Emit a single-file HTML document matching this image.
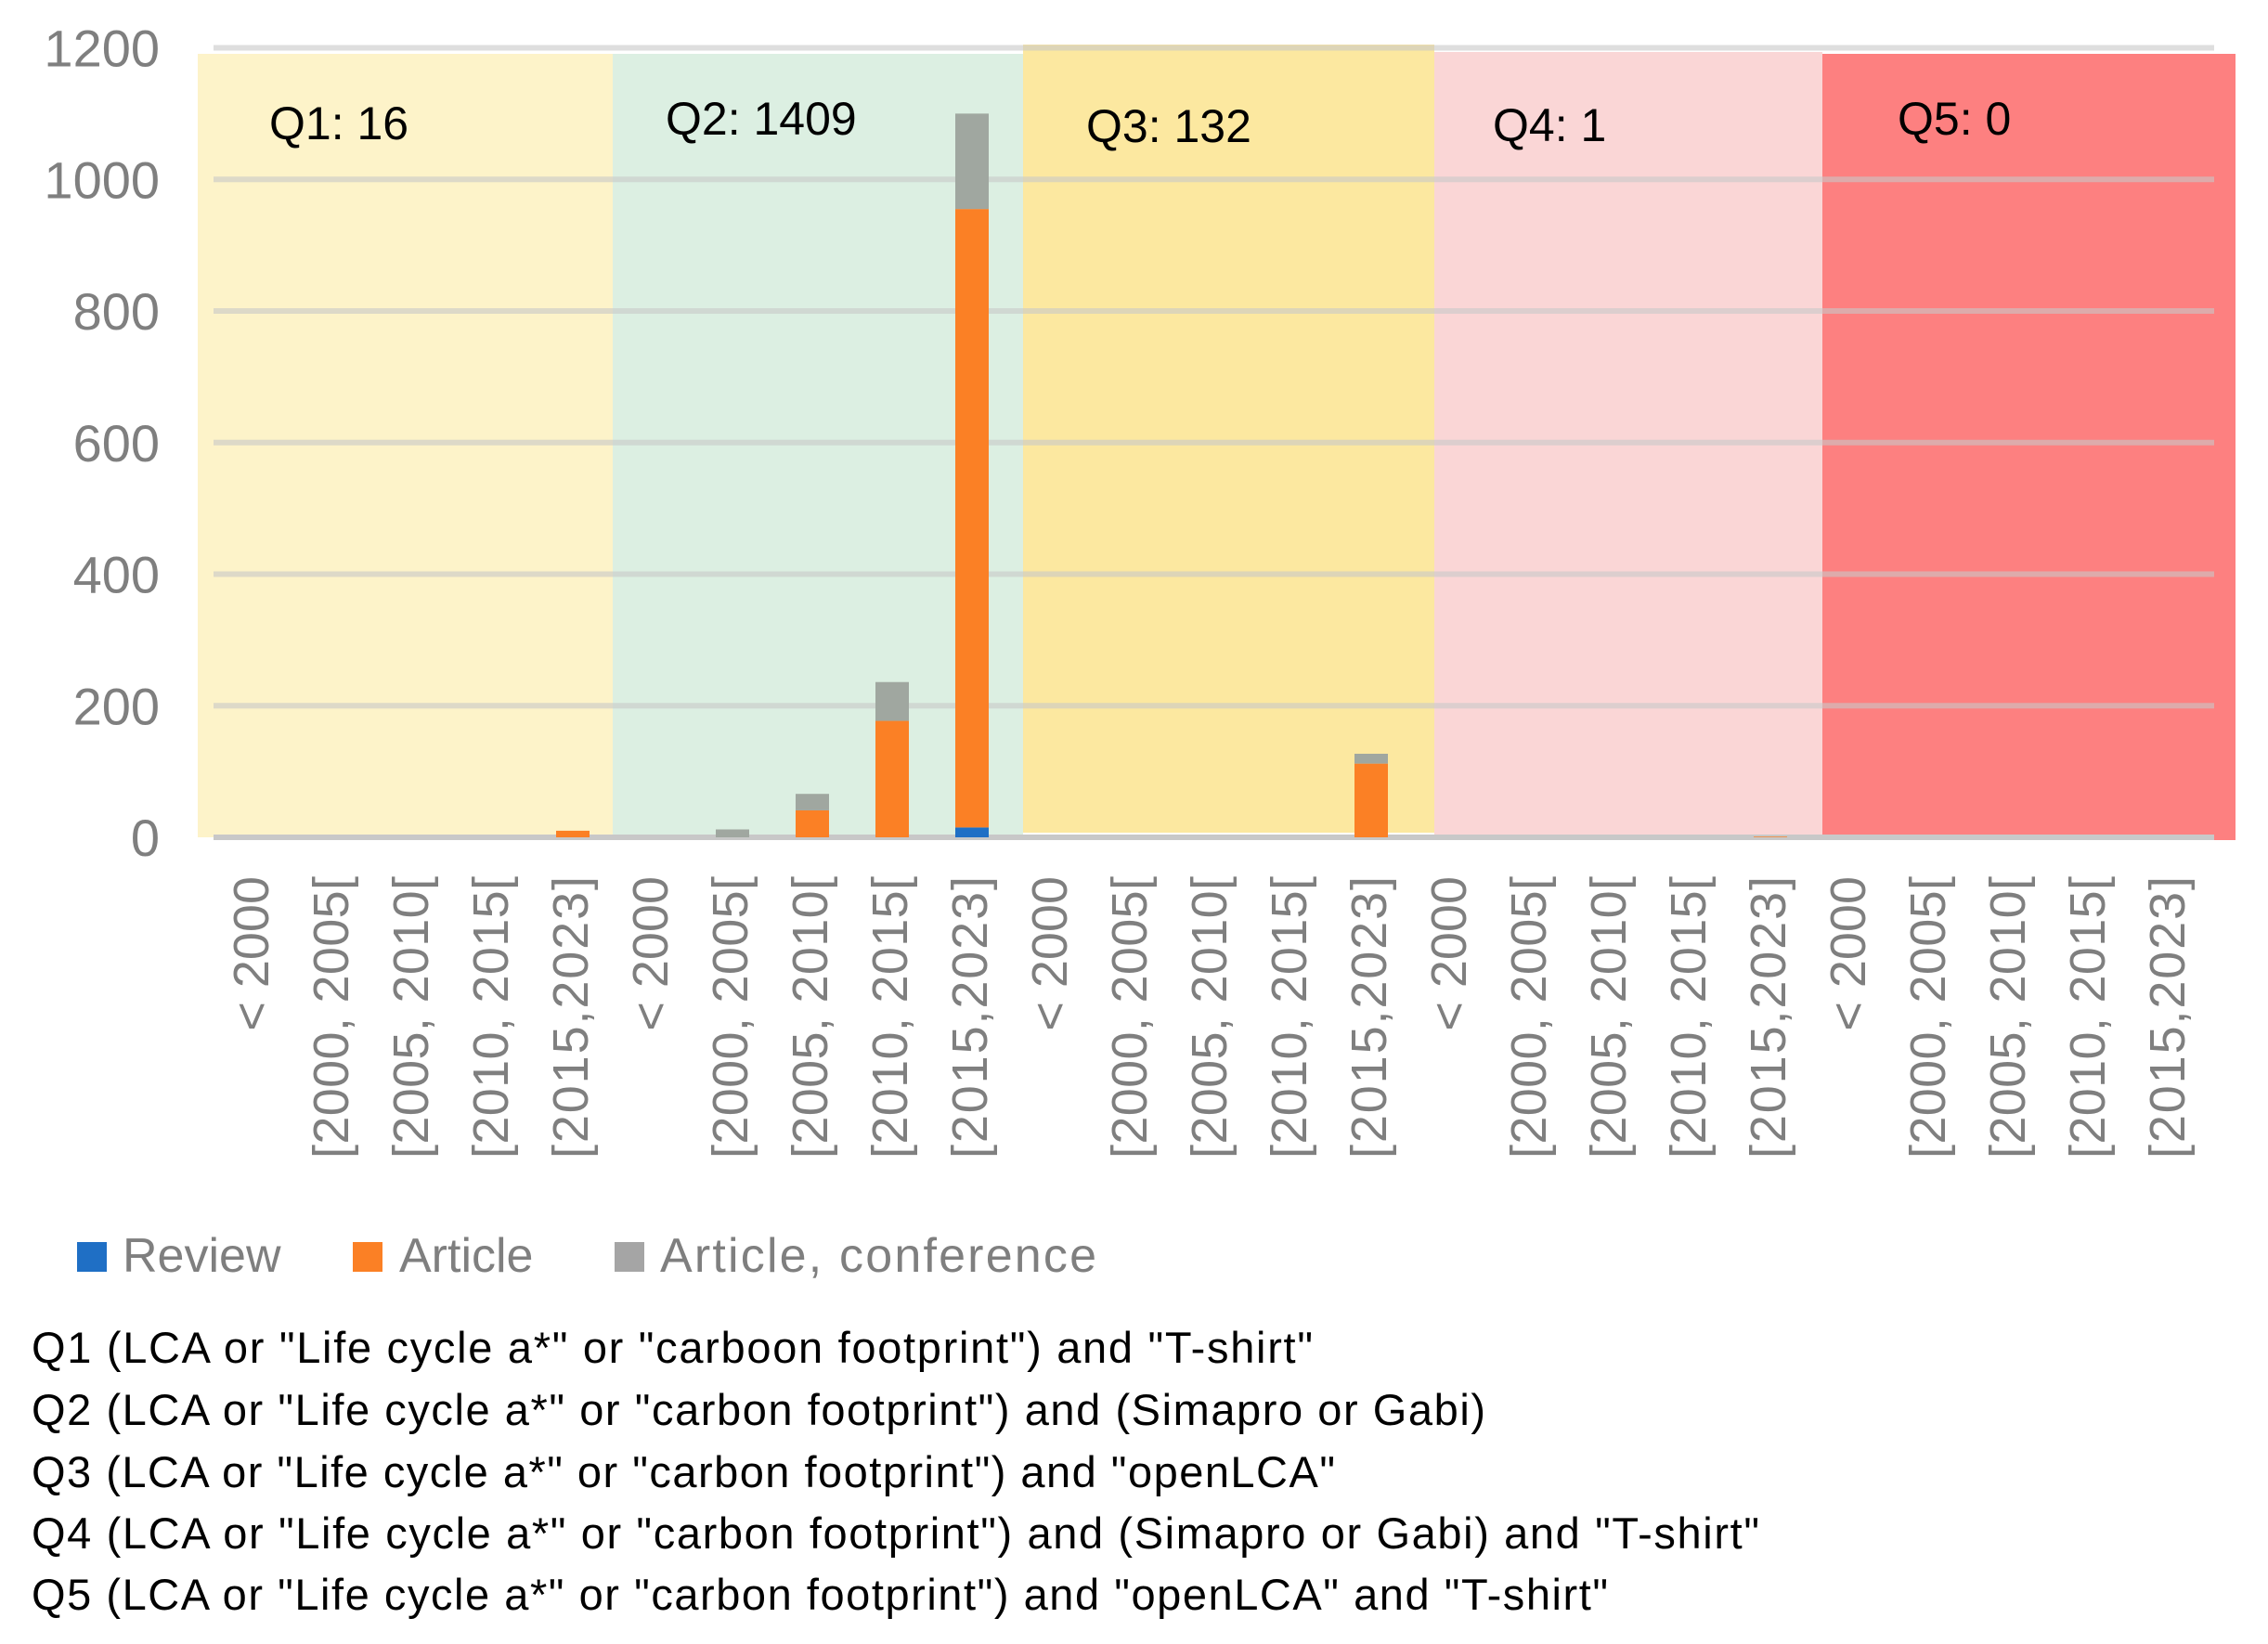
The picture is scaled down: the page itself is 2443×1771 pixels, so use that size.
<!DOCTYPE html>
<html><head><meta charset="utf-8"><style>
html,body{margin:0;padding:0;background:#fff;}
svg{display:block;font-family:"Liberation Sans",sans-serif;}
</style></head><body>
<svg id="chart" width="2443" height="1771" viewBox="0 0 2443 1771">
<g id="regions"></g><g id="grid"></g><g id="bars"></g><g id="ylab"></g><g id="xlab"></g><g id="qlab"></g>
<g id="legend">
<rect x="83" y="1338" width="32" height="32" fill="#1f6fc5"/>
<text x="132" y="1370" font-size="52" fill="#7f7f7f">Review</text>
<rect x="380" y="1338" width="32" height="32" fill="#fb8025"/>
<text x="430" y="1370" font-size="52" fill="#7f7f7f">Article</text>
<rect x="662" y="1338" width="32" height="32" fill="#a5a5a5"/>
<text x="711" y="1370" font-size="52" fill="#7f7f7f" textLength="470">Article, conference</text>
</g>
<g id="notes" font-size="47" fill="#000">
<text x="34" y="1468" textLength="1380">Q1 (LCA or "Life cycle a*" or "carboon footprint") and "T-shirt"</text>
<text x="34" y="1535" textLength="1566">Q2 (LCA or "Life cycle a*" or "carbon footprint")  and (Simapro or Gabi)</text>
<text x="34" y="1602" textLength="1404">Q3 (LCA or "Life cycle a*" or "carbon footprint") and "openLCA"</text>
<text x="34" y="1668" textLength="1861">Q4 (LCA or "Life cycle a*" or "carbon footprint")  and (Simapro or Gabi) and "T-shirt"</text>
<text x="34" y="1734" textLength="1698">Q5 (LCA or "Life cycle a*" or "carbon footprint") and "openLCA" and "T-shirt"</text>
</g>
</svg>
<script>
const categories = ["< 2000","[2000, 2005[","[2005, 2010[","[2010, 2015[","[2015,2023]"];
const groups = ["Q1: 16","Q2:  1409","Q3:  132","Q4:  1","Q5:  0"];
const review = [0,0,0,0,0, 0,0,0,0,15, 0,0,0,0,0, 0,0,0,0,0, 0,0,0,0,0];
const article = [0,0,0,0,10, 0,0,41,177,940, 0,0,0,0,112, 0,0,0,0,1, 0,0,0,0,0];
const conference = [0,0,0,0,0, 0,12,25,59,145, 0,0,0,0,15, 0,0,0,0,0, 0,0,0,0,0];
const yTicks = [0,200,400,600,800,1000,1200];

const NS="http://www.w3.org/2000/svg";
const X0=230, X1=2380, Y0=902, Y1=51.5, YMAX=1200;
const n=categories.length*groups.length;
const step=(X1-X0)/n;
function y(v){return Y0-(v/YMAX)*(Y0-Y1);}
function xc(i){return X0+step*(i+0.5);}
function mk(parent,tag,attrs){const e=document.createElementNS(NS,tag);for(const k in attrs)e.setAttribute(k,attrs[k]);document.getElementById(parent).appendChild(e);return e;}

const regionFill=["#fdf3c9","#dcefe2","#fce8a0","#fad6d6","#fd8080"];
const regionBounds=[[213,660,58,902],[660,1102,58,902],[1102,1545,48,897],[1545,1963,56,903],[1963,2408,58,905]];
regionBounds.forEach((b,i)=>{
  const r=mk('regions','rect',{x:b[0],y:b[2],width:b[1]-b[0],height:b[3]-b[2],fill:regionFill[i]});
  
  
});
yTicks.forEach(t=>{
  const l=mk('grid','line',{x1:X0,x2:2385,y1:y(t),y2:y(t),stroke:"#c8c8c8","stroke-width":6,"stroke-opacity":t===0?1:0.6});
  
  
  const tx=mk('ylab','text',{x:172,y:y(t)+20,"text-anchor":"end","font-size":56,fill:"#7f7f7f"});
  tx.textContent=t;
  
  
});
const bw=36;
for(let i=0;i<n;i++){
  let base=0;
  [[review,"#1f6fc5","review"],[article,"#fb8025","article"],[conference,"#a0a7a0","conference"]].forEach(s=>{
    const v=s[0][i];
    if(v>0){
      const r=mk('bars','rect',{x:xc(i)-bw/2,y:y(base+v),width:bw,height:y(base)-y(base+v),fill:s[1]});
      
      
    }
    base+=v;
  });
}
for(let i=0;i<n;i++){
  const c=categories[i%categories.length];
  const cx=xc(i), top=944;
  const t=mk('xlab','text',{x:0,y:0,"text-anchor":"end","font-size":54,fill:"#7f7f7f",transform:`translate(${cx+16},${top}) rotate(-90)`});
  if(c.length>6) t.setAttribute('textLength',304);
  t.textContent=c;
  
  
}
const gx=[290,717,1170,1608,2044], gy=[150,145,153,152,145];
groups.forEach((g,i)=>{
  const t=mk('qlab','text',{x:gx[i],y:gy[i],"font-size":50,fill:"#000"});
  t.textContent=g;
  
  
});
</script>
</body></html>
